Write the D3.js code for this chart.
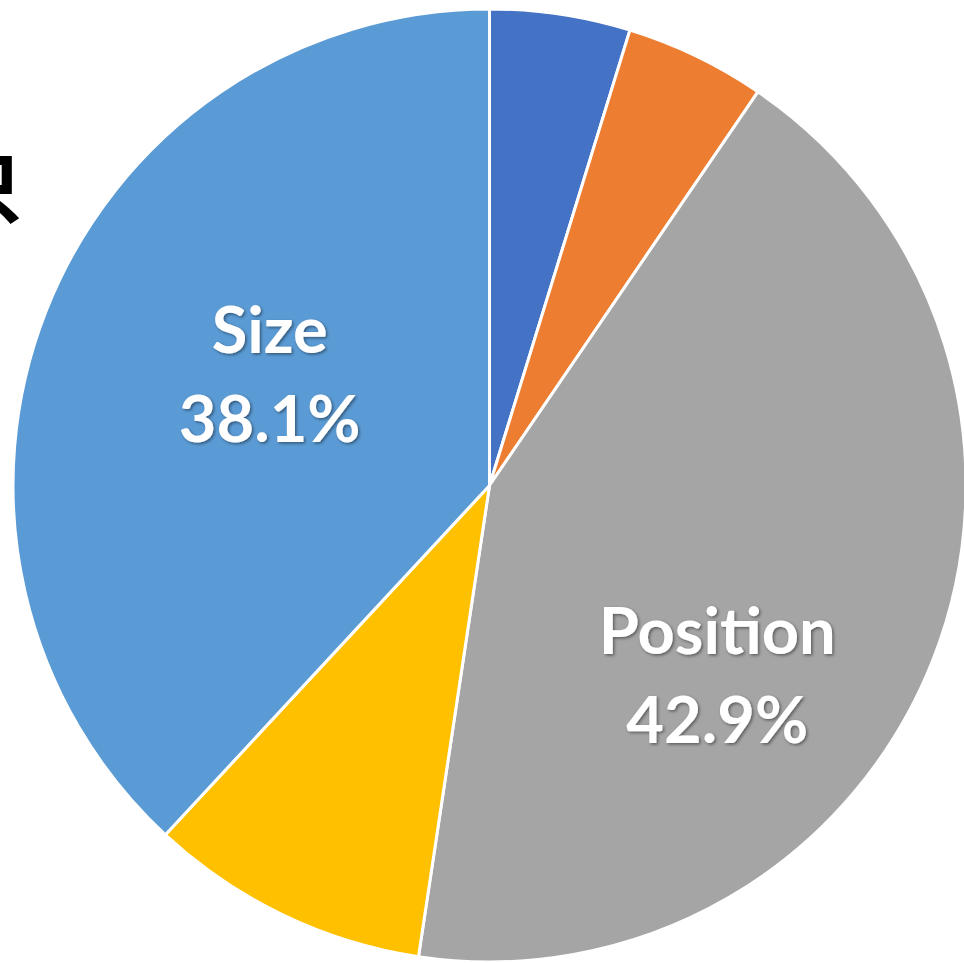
<!DOCTYPE html>
<html>
<head>
<meta charset="utf-8">
<script src="https://cdn.jsdelivr.net/npm/d3@7"></script>
<style>
  html, body { margin: 0; padding: 0; background: #fff; overflow: hidden; }
</style>
</head>
<body>
<div id="chart"></div>
<script>
'use strict';

// data (share out of 21)
const categories = ['Angle', 'Color', 'Position', 'Shape', 'Size'];
const counts = [1, 1, 9, 2, 8];
const colors = ['#4472C4', '#ED7D31', '#A5A5A5', '#FFC000', '#5B9BD5'];
const labelled = ['Size', 'Position'];
const titleText = '只';

const width = 964, height = 963;
const cx = 489.5, cy = 485.5, radius = 476.5;

const svg = d3.select('#chart')
  .append('svg')
  .attr('width', width)
  .attr('height', height);

// soft shadow under the labels
const defs = svg.append('defs');
defs.append('filter')
  .attr('id', 'shadow')
  .attr('x', '-20%').attr('y', '-20%')
  .attr('width', '140%').attr('height', '140%')
  .append('feDropShadow')
  .attr('dx', 1.5).attr('dy', 1.5)
  .attr('stdDeviation', 1.5)
  .attr('flood-color', '#000')
  .attr('flood-opacity', 0.45);

// title glyph, cut off at the left edge like the reference
svg.append('text')
  .attr('x', -55)
  .attr('y', 217)
  .style('font-family', '"Noto Sans CJK SC"')
  .style('font-weight', 'bold')
  .style('font-size', '78px')
  .attr('fill', '#000')
  .text(titleText);

const data = categories.map((c, i) => ({ name: c, value: counts[i], color: colors[i] }));
const total = d3.sum(counts);

const pie = d3.pie()
  .sort(null)
  .value(d => d.value);

const arc = d3.arc()
  .innerRadius(0)
  .outerRadius(radius);

const labelArc = d3.arc()
  .innerRadius(radius * 0.5)
  .outerRadius(radius * 0.5);

const g = svg.append('g')
  .attr('transform', `translate(${cx},${cy})`);

const arcs = pie(data);

g.selectAll('path')
  .data(arcs)
  .join('path')
  .attr('d', arc)
  .attr('fill', d => d.data.color)
  .attr('stroke', '#fff')
  .attr('stroke-width', 3)
  .attr('stroke-linejoin', 'round');

// Excel nudges the big label off the bisector
const nudge = { Size: [2, 0], Position: [6, 126] };
const fmt = d3.format('.1%');

const labels = g.selectAll('text.lbl')
  .data(arcs.filter(d => labelled.includes(d.data.name)))
  .join('text')
  .attr('class', 'lbl')
  .attr('transform', d => {
    const c = labelArc.centroid(d);
    const n = nudge[d.data.name] || [0, 0];
    return `translate(${c[0] + n[0]},${c[1] + n[1]})`;
  })
  .attr('text-anchor', 'middle')
  .attr('fill', '#fff')
  .attr('filter', 'url(#shadow)')
  .style('font-family', 'Lato, "Open Sans", sans-serif')
  .style('font-weight', 'bold')
  .style('font-size', '65px');

labels.append('tspan')
  .attr('x', 0)
  .attr('y', -45)
  .text(d => d.data.name);

labels.append('tspan')
  .attr('x', 0)
  .attr('y', 44)
  .text(d => fmt(d.data.value / total));
</script>
</body>
</html>
